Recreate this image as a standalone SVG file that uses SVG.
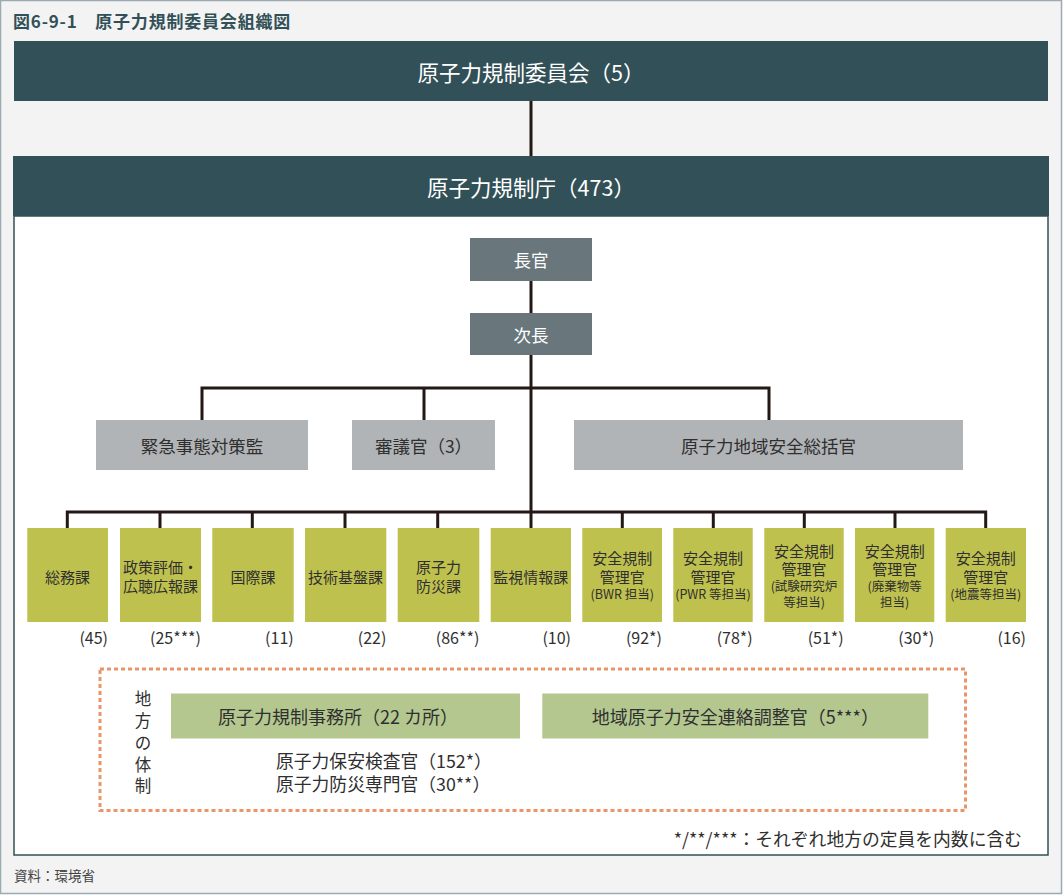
<svg xmlns="http://www.w3.org/2000/svg" width="1063" height="895" viewBox="0 0 1063 895">
<style>
text{font-family:"Noto Sans CJK JP","Noto Sans",sans-serif;}
.hdr{fill:#325057;}
.hdrt{fill:#ffffff;font-size:21.5px;text-anchor:middle;dominant-baseline:central;}
.exec{fill:#69767c;}
.exect{fill:#ffffff;font-size:17.5px;text-anchor:middle;dominant-baseline:central;}
.gray{fill:#b1b4b6;}
.grayt{fill:#2f2f2f;font-size:17.5px;text-anchor:middle;dominant-baseline:central;}
.div{fill:#bfc14e;}
.divt{fill:#2f2f2f;font-size:15px;text-anchor:middle;dominant-baseline:central;}
.divs{fill:#2f2f2f;font-size:12.5px;text-anchor:middle;dominant-baseline:central;}
.num{fill:#2f2f2f;font-size:16px;text-anchor:end;dominant-baseline:central;}
.reg{fill:#b3c78f;}
.regt{fill:#2f2f2f;font-size:18px;text-anchor:middle;dominant-baseline:central;}
.plain{fill:#2f2f2f;font-size:17.8px;dominant-baseline:central;}
.conn{stroke:#231815;stroke-width:3;fill:none;}
</style>
<rect x="0.5" y="0.5" width="1061" height="893" fill="#f3f3f3" stroke="#9aaab2" stroke-width="1.5"/>
<text x="13" y="20" style="font-size:17px;font-weight:bold;fill:#325057;dominant-baseline:central;letter-spacing:0.8px">図6-9-1　原子力規制委員会組織図</text>
<rect x="14" y="216" width="1034" height="639" fill="#ffffff" stroke="#325057" stroke-width="1.5"/>

<g id="connectors">
<line class="conn" x1="531" y1="101" x2="531" y2="156"/>
<line class="conn" x1="531" y1="281" x2="531" y2="313"/>
<line class="conn" x1="531" y1="355" x2="531" y2="528"/>
<polyline class="conn" points="202,420 202,388 769,388 769,420"/>
<line class="conn" x1="424" y1="388" x2="424" y2="420"/>
<polyline class="conn" points="67.3,528 67.3,512 985.7,512 985.7,528"/>
<line class="conn" x1="160" y1="512" x2="160" y2="528"/>
<line class="conn" x1="252.3" y1="512" x2="252.3" y2="528"/>
<line class="conn" x1="345" y1="512" x2="345" y2="528"/>
<line class="conn" x1="437.7" y1="512" x2="437.7" y2="528"/>
<line class="conn" x1="622.3" y1="512" x2="622.3" y2="528"/>
<line class="conn" x1="713.3" y1="512" x2="713.3" y2="528"/>
<line class="conn" x1="804.3" y1="512" x2="804.3" y2="528"/>
<line class="conn" x1="895" y1="512" x2="895" y2="528"/>
</g>

<g id="commission"><rect class="hdr" x="14" y="41" width="1034" height="60"/><text class="hdrt" x="531" y="71">原子力規制委員会（5）</text></g>
<g id="agency"><rect class="hdr" x="13" y="156" width="1036" height="60"/><text class="hdrt" x="531" y="186">原子力規制庁（473）</text></g>
<g id="chokan"><rect class="exec" x="470" y="238" width="122" height="43"/><text class="exect" x="531" y="259">長官</text></g>
<g id="jicho"><rect class="exec" x="470" y="313" width="122" height="42"/><text class="exect" x="531" y="334">次長</text></g>

<g id="kinkyu"><rect class="gray" x="96" y="420" width="212" height="50"/><text class="grayt" x="202" y="445">緊急事態対策監</text></g>
<g id="shingikan"><rect class="gray" x="352" y="420" width="143" height="50"/><text class="grayt" x="423.5" y="445">審議官（3）</text></g>
<g id="chiiki-sokatsu"><rect class="gray" x="574" y="420" width="389" height="50"/><text class="grayt" x="768.5" y="445">原子力地域安全総括官</text></g>

<g id="somu"><rect class="div" x="27.3" y="528" width="80.7" height="94"/><text class="divt" x="67.6" y="576">総務課</text><text class="num" x="108" y="637">(45)</text></g>
<g id="seisaku"><rect class="div" x="120" y="528" width="81" height="94"/><text class="divt" x="160.5" y="566.5">政策評価・</text><text class="divt" x="160.5" y="585.5">広聴広報課</text><text class="num" x="201" y="637">(25***)</text></g>
<g id="kokusai"><rect class="div" x="212.3" y="528" width="81.4" height="94"/><text class="divt" x="253" y="576">国際課</text><text class="num" x="293.7" y="637">(11)</text></g>
<g id="gijutsu"><rect class="div" x="305" y="528" width="81.3" height="94"/><text class="divt" x="345.6" y="576">技術基盤課</text><text class="num" x="386.3" y="637">(22)</text></g>
<g id="bosai"><rect class="div" x="397.7" y="528" width="81.6" height="94"/><text class="divt" x="438.5" y="566">原子力</text><text class="divt" x="438.5" y="585">防災課</text><text class="num" x="479.3" y="637">(86**)</text></g>
<g id="kanshi"><rect class="div" x="490.7" y="528" width="80.3" height="94"/><text class="divt" x="530.8" y="576">監視情報課</text><text class="num" x="571" y="637">(10)</text></g>
<g id="bwr"><rect class="div" x="582.3" y="528" width="79.7" height="94"/><text class="divt" x="622.2" y="557">安全規制</text><text class="divt" x="622.2" y="576">管理官</text><text class="divs" x="622.2" y="593.5">(BWR 担当)</text><text class="num" x="662" y="637">(92*)</text></g>
<g id="pwr"><rect class="div" x="673.3" y="528" width="79.4" height="94"/><text class="divt" x="713" y="557">安全規制</text><text class="divt" x="713" y="576">管理官</text><text class="divs" x="713" y="593.5">(PWR 等担当)</text><text class="num" x="752.7" y="637">(78*)</text></g>
<g id="shiken"><rect class="div" x="764.3" y="528" width="79.4" height="94"/><text class="divt" x="804" y="550">安全規制</text><text class="divt" x="804" y="568.5">管理官</text><text class="divs" x="804" y="585.5">(試験研究炉</text><text class="divs" x="804" y="601">等担当)</text><text class="num" x="843.7" y="637">(51*)</text></g>
<g id="haiki"><rect class="div" x="855" y="528" width="79.3" height="94"/><text class="divt" x="894.7" y="550">安全規制</text><text class="divt" x="894.7" y="568.5">管理官</text><text class="divs" x="894.7" y="585.5">(廃棄物等</text><text class="divs" x="894.7" y="601">担当)</text><text class="num" x="934.3" y="637">(30*)</text></g>
<g id="jishin"><rect class="div" x="945.7" y="528" width="80.3" height="94"/><text class="divt" x="985.8" y="557">安全規制</text><text class="divt" x="985.8" y="576">管理官</text><text class="divs" x="985.8" y="593.5">(地震等担当)</text><text class="num" x="1026" y="637">(16)</text></g>

<g id="regional">
<rect x="100" y="669" width="865.5" height="141.5" fill="none" stroke="#e8956a" stroke-width="3" stroke-dasharray="4 3"/>
<text style="font-size:16.5px;fill:#2f2f2f;text-anchor:middle;dominant-baseline:central" x="143"><tspan x="143" y="698">地</tspan><tspan x="143" y="720">方</tspan><tspan x="143" y="742">の</tspan><tspan x="143" y="764">体</tspan><tspan x="143" y="785">制</tspan></text>
</g>
<g id="jimusho"><rect class="reg" x="171" y="693.5" width="349" height="45"/><text class="regt" x="338" y="716">原子力規制事務所（22 カ所）</text></g>
<g id="chiiki-renraku"><rect class="reg" x="542.3" y="693.5" width="386" height="45"/><text class="regt" x="735.3" y="716">地域原子力安全連絡調整官（5***）</text></g>
<g id="inspectors"><text class="plain" x="276" y="760">原子力保安検査官（152*）</text><text class="plain" x="276" y="783">原子力防災専門官（30**）</text></g>

<text class="plain" x="1022" y="838" style="text-anchor:end">*/**/***：それぞれ地方の定員を内数に含む</text>
<text x="14" y="875" style="font-size:13.5px;fill:#444;dominant-baseline:central">資料：環境省</text>
</svg>
